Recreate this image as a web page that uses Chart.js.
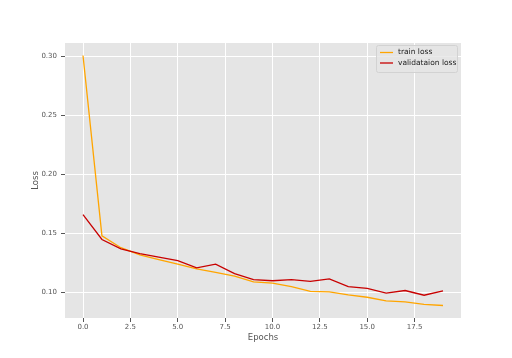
<!DOCTYPE html>
<html>
<head>
<meta charset="utf-8">
<script src="https://cdn.jsdelivr.net/npm/chart.js@4/dist/chart.umd.min.js"></script>
<style>
html,body{margin:0;padding:0;background:#fff;}
canvas{display:block;}
</style>
</head>
<body>
<canvas id="c" width="512" height="358"></canvas>
<script>
const epochs = [0,1,2,3,4,5,6,7,8,9,10,11,12,13,14,15,16,17,18,19];
const trainLoss = [0.301,0.148,0.138,0.132,0.128,0.124,0.120,0.117,0.114,0.109,0.108,0.105,0.101,0.1005,0.098,0.096,0.093,0.092,0.090,0.089];
const valLoss = [0.166,0.145,0.137,0.133,0.130,0.127,0.121,0.124,0.116,0.111,0.110,0.111,0.1095,0.1115,0.105,0.1035,0.0995,0.1017,0.0977,0.1014];
const xTicks = [0,2.5,5,7.5,10,12.5,15,17.5];
const yTicks = [0.10,0.15,0.20,0.25,0.30];
const seriesLabels = ['train loss','validataion loss'];

const bgPlugin = {
  id:'bg',
  beforeDraw(chart){
    const {ctx, chartArea:a} = chart;
    ctx.save();
    ctx.fillStyle = '#E5E5E5';
    ctx.fillRect(a.left, a.top, a.right-a.left, a.bottom-a.top);
    ctx.restore();
  }
};
const legendPlugin = {
  id:'customLegend',
  afterDraw(chart){
    const ctx = chart.ctx;
    const a = chart.chartArea;
    const x0 = a.right - 85, y0 = a.top + 2, w = 81, h = 27;
    ctx.save();
    ctx.fillStyle = 'rgba(229,229,229,0.8)';
    ctx.strokeStyle = '#d2d2d2';
    ctx.lineWidth = 1;
    ctx.beginPath();
    if (ctx.roundRect) ctx.roundRect(x0+0.5, y0+0.5, w, h, 2); else ctx.rect(x0+0.5,y0+0.5,w,h);
    ctx.fill(); ctx.stroke();
    ctx.font = '7.5px "DejaVu Sans"';
    ctx.textBaseline = 'middle';
    chart.data.datasets.forEach((ds,i)=>{
      const yy = y0 + 7.5 + i*10.5;
      ctx.strokeStyle = ds.borderColor;
      ctx.lineWidth = 1.3;
      ctx.beginPath(); ctx.moveTo(x0+4, yy); ctx.lineTo(x0+17, yy); ctx.stroke();
      ctx.fillStyle = '#222';
      ctx.fillText(ds.label, x0+22, yy);
    });
    ctx.restore();
  }
};

new Chart(document.getElementById('c'), {
  type:'line',
  data:{
    datasets:[
      {label:seriesLabels[0], data:epochs.map((e,i)=>({x:e,y:trainLoss[i]})), borderColor:'#FFA500', borderWidth:1.3, pointRadius:0, tension:0, order:2},
      {label:seriesLabels[1], data:epochs.map((e,i)=>({x:e,y:valLoss[i]})), borderColor:'#C80000', borderWidth:1.3, pointRadius:0, tension:0, order:1}
    ]
  },
  options:{
    responsive:false,
    animation:false,
    layout:{padding:{left:0,right:51,top:43,bottom:0}},
    plugins:{legend:{display:false}, tooltip:{enabled:false}},
    scales:{
      x:{
        type:'linear', min:-0.95, max:19.95,
        afterBuildTicks(s){ s.ticks = xTicks.map(v=>({value:v})); },
        afterFit(s){ s.height = 40; },
        ticks:{callback:v=>Number(v).toFixed(1), color:'#555', font:{family:'DejaVu Sans', size:7}, padding:1, maxRotation:0, autoSkip:false},
        grid:{color:'#ffffff', lineWidth:1, tickColor:'#555', tickLength:4},
        border:{display:false},
        title:{display:true, text:'Epochs', color:'#555', font:{family:'DejaVu Sans', size:8.5}, padding:{top:0,bottom:15}}
      },
      y:{
        type:'linear', min:0.0784, max:0.3116,
        afterBuildTicks(s){ s.ticks = yTicks.map(v=>({value:v})); },
        afterFit(s){ s.width = 65; },
        ticks:{callback:v=>Number(v).toFixed(2), color:'#555', font:{family:'DejaVu Sans', size:7}, padding:4},
        grid:{color:'#ffffff', lineWidth:1, tickColor:'#555', tickLength:4},
        border:{display:false},
        title:{display:true, text:'Loss', color:'#555', font:{family:'DejaVu Sans', size:8.5}, padding:{top:31,bottom:0}}
      }
    }
  },
  plugins:[bgPlugin, legendPlugin]
});
</script>
</body>
</html>
